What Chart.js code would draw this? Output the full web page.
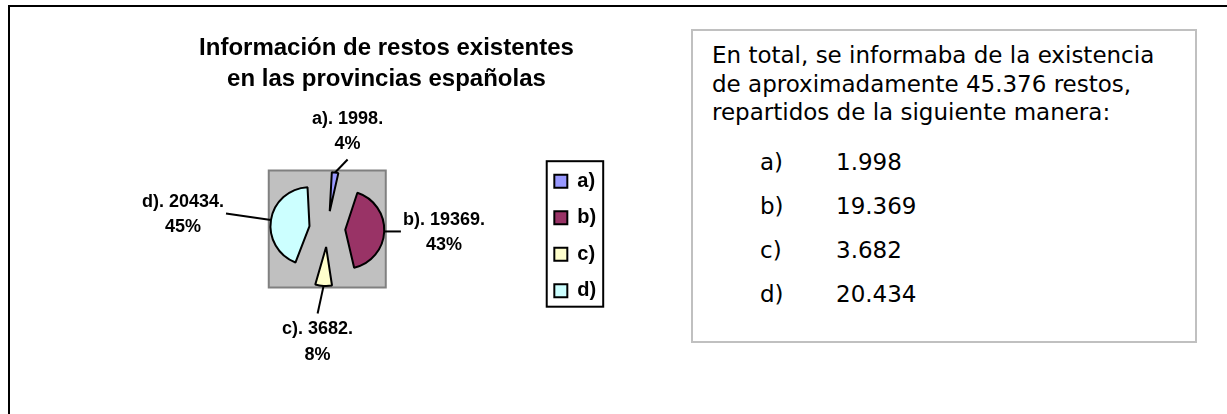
<!DOCTYPE html>
<html lang="es">
<head>
<meta charset="utf-8">
<title>Información de restos existentes</title>
<script src="https://cdn.jsdelivr.net/npm/chart.js@4.4.1/dist/chart.umd.min.js"></script>
<style>
  html, body { margin: 0; padding: 0; background: #fff; overflow: hidden; }
  body { width: 1227px; height: 414px; position: relative; }
  .frame { position: absolute; left: 8px; top: 5px; width: 1300px; height: 500px; border: 2px solid #000; }
  .chart-box { position: absolute; left: 0; top: 0; width: 680px; height: 414px; }
  .note {
    position: absolute; left: 691px; top: 29px; width: 506px; height: 314px;
    box-sizing: border-box; border: 2px solid #c0c0c0; padding: 10px 0 0 19px;
    font-family: 'DejaVu Sans', Verdana, sans-serif; font-size: 23px; line-height: 28.5px;
    color: #000; white-space: nowrap;
  }
  .note .rows { margin-top: 13px; }
  .note .row { height: 44px; line-height: 44px; }
  .note .lbl { display: inline-block; width: 76px; margin-left: 48px; }
</style>
</head>
<body>
<div class="frame"></div>
<div class="chart-box"><canvas id="myChart"></canvas></div>
<div class="note">
  En total, se informaba de la existencia<br>
  de aproximadamente 45.376 restos,<br>
  repartidos de la siguiente manera:
  <div class="rows" id="rows"></div>
</div>
<script>
// data
var categories = ["a)", "b)", "c)", "d)"];
var restos = [1998, 19369, 3682, 20434];
var titleLines = ["Información de restos existentes", "en las provincias españolas"];

// styles
var sliceColors = ["#9999ff", "#993366", "#ffffcc", "#ccffff"];
var pieRadius = 39;
var explode = 72;          // chart.js moves a slice by offset/4
var leaders = [[12.5, -13], [16.7, 0], [-6, 27.6], [-45, -6.4]];

// list in the text box
function miles(n) {
    return String(n).replace(/\B(?=(\d{3})+(?!\d))/g, ".");
}
var rows = document.getElementById("rows");
categories.forEach(function (c, i) {
    var row = document.createElement("div");
    row.className = "row";
    row.innerHTML = '<span class="lbl">' + c + '</span>' + miles(restos[i]);
    rows.appendChild(row);
});

Chart.defaults.font.family = "'Liberation Sans', Arial, sans-serif";
Chart.defaults.color = "#000";

// keep every slice at pieRadius after chart.js enlarges exploded slices
var radiusFix = {
    id: "radiusFix",
    afterDatasetUpdate: function (chart, args, opts) {
        args.meta.data.forEach(function (arc) {
            var shift = (arc.options.offset || 0) / 4;
            var fix = 1 - Math.sin(Math.min(Math.PI, arc.circumference));
            arc.outerRadius = opts.radius - shift * fix;
        });
    }
};

// grey plot area around the exploded pie
var plotArea = {
    id: "plotArea",
    beforeDatasetsDraw: function (chart, args, opts) {
        var ctx = chart.ctx;
        var arc = chart.getDatasetMeta(0).data[0];
        var half = opts.radius + (arc.options.offset || 0) / 4 + 1.5;
        ctx.save();
        ctx.fillStyle = "#c0c0c0";
        ctx.fillRect(arc.x - half, arc.y - half, half * 2, half * 2);
        ctx.strokeStyle = "#808080";
        ctx.lineWidth = 2;
        ctx.strokeRect(arc.x - half, arc.y - half, half * 2, half * 2);
        ctx.restore();
    }
};

// "a). 1998." / "4%" labels with leader lines
var pieLabels = {
    id: "pieLabels",
    afterDatasetsDraw: function (chart, args, opts) {
        var ctx = chart.ctx;
        var meta = chart.getDatasetMeta(0);
        var values = chart.data.datasets[0].data;
        var total = values.reduce(function (s, v) { return s + v; }, 0);
        ctx.save();
        ctx.font = "bold 18px 'Liberation Sans', Arial, sans-serif";
        ctx.fillStyle = "#000";
        ctx.strokeStyle = "#000";
        ctx.lineWidth = 2;
        ctx.textAlign = "center";
        ctx.textBaseline = "middle";
        meta.data.forEach(function (arc, i) {
            var mid = (arc.startAngle + arc.endAngle) / 2;
            var shift = (arc.options.offset || 0) / 4;
            var sx = arc.x + Math.cos(mid) * (shift + opts.radius);
            var sy = arc.y + Math.sin(mid) * (shift + opts.radius);
            var dx = opts.leaders[i][0], dy = opts.leaders[i][1];
            var ex = sx + dx, ey = sy + dy;
            ctx.beginPath();
            ctx.moveTo(sx, sy);
            ctx.lineTo(ex, ey);
            ctx.stroke();

            var lines = [chart.data.labels[i] + ". " + values[i] + ".",
                         Math.round(values[i] / total * 100) + "%"];
            var w = Math.max.apply(null, lines.map(function (t) { return ctx.measureText(t).width; }));
            var lh = 25.5, cx, cy;
            if (Math.abs(dx) > Math.abs(dy)) {
                cx = dx > 0 ? ex + 2 + w / 2 : ex - 2 - w / 2;
                cy = ey + 1 - lh / 2;
            } else {
                cx = ex;
                cy = dy < 0 ? ey - 15.5 - lh : ey + 16;
            }
            lines.forEach(function (t, k) { ctx.fillText(t, cx, cy + k * lh); });
        });
        ctx.restore();
    }
};

// black frame round the legend
var legendFrame = {
    id: "legendFrame",
    afterDraw: function (chart) {
        var boxes = chart.legend.legendHitBoxes;
        if (!boxes || !boxes.length) return;
        var l = Infinity, t = Infinity, r = -Infinity, b = -Infinity;
        boxes.forEach(function (h) {
            l = Math.min(l, h.left); t = Math.min(t, h.top);
            r = Math.max(r, h.left + h.width); b = Math.max(b, h.top + h.height);
        });
        var ctx = chart.ctx;
        ctx.save();
        ctx.strokeStyle = "#000";
        ctx.lineWidth = 2;
        ctx.strokeRect(l - 7.6, t - 10, (r + 7) - (l - 7.6), (b + 6) - (t - 10));
        ctx.restore();
    }
};

var myChart = document.getElementById("myChart").getContext("2d");

var pieChart = new Chart(myChart, {
    type: "pie",
    data: {
        labels: categories,
        datasets: [{
            data: restos,
            backgroundColor: sliceColors,
            borderColor: "#000",
            borderWidth: 2,
            offset: explode,
            hoverOffset: 0
        }]
    },
    options: {
        responsive: true,
        maintainAspectRatio: false,
        animation: false,
        events: [],
        radius: pieRadius,
        layout: {
            padding: { left: 116.7, top: 8, right: 23.8, bottom: 96.8 }
        },
        plugins: {
            title: {
                display: true,
                text: titleLines,
                color: "#000",
                font: { size: 24, weight: "bold", lineHeight: 1.3 },
                padding: { top: 25, bottom: 45.4 }
            },
            // empty spacer on the right, keeps the title centred like the original
            subtitle: {
                display: true,
                text: "",
                position: "right",
                font: { size: 10, lineHeight: 1 },
                padding: { top: 20, bottom: 20 }
            },
            legend: {
                position: "right",
                align: "end",
                labels: {
                    boxWidth: 13,
                    boxHeight: 13,
                    padding: 16.5,
                    color: "#000",
                    font: { size: 20, weight: "bold" }
                }
            },
            tooltip: { enabled: false },
            radiusFix: { radius: pieRadius },
            plotArea: { radius: pieRadius },
            pieLabels: { radius: pieRadius, leaders: leaders }
        }
    },
    plugins: [radiusFix, plotArea, pieLabels, legendFrame]
});
</script>
</body>
</html>
